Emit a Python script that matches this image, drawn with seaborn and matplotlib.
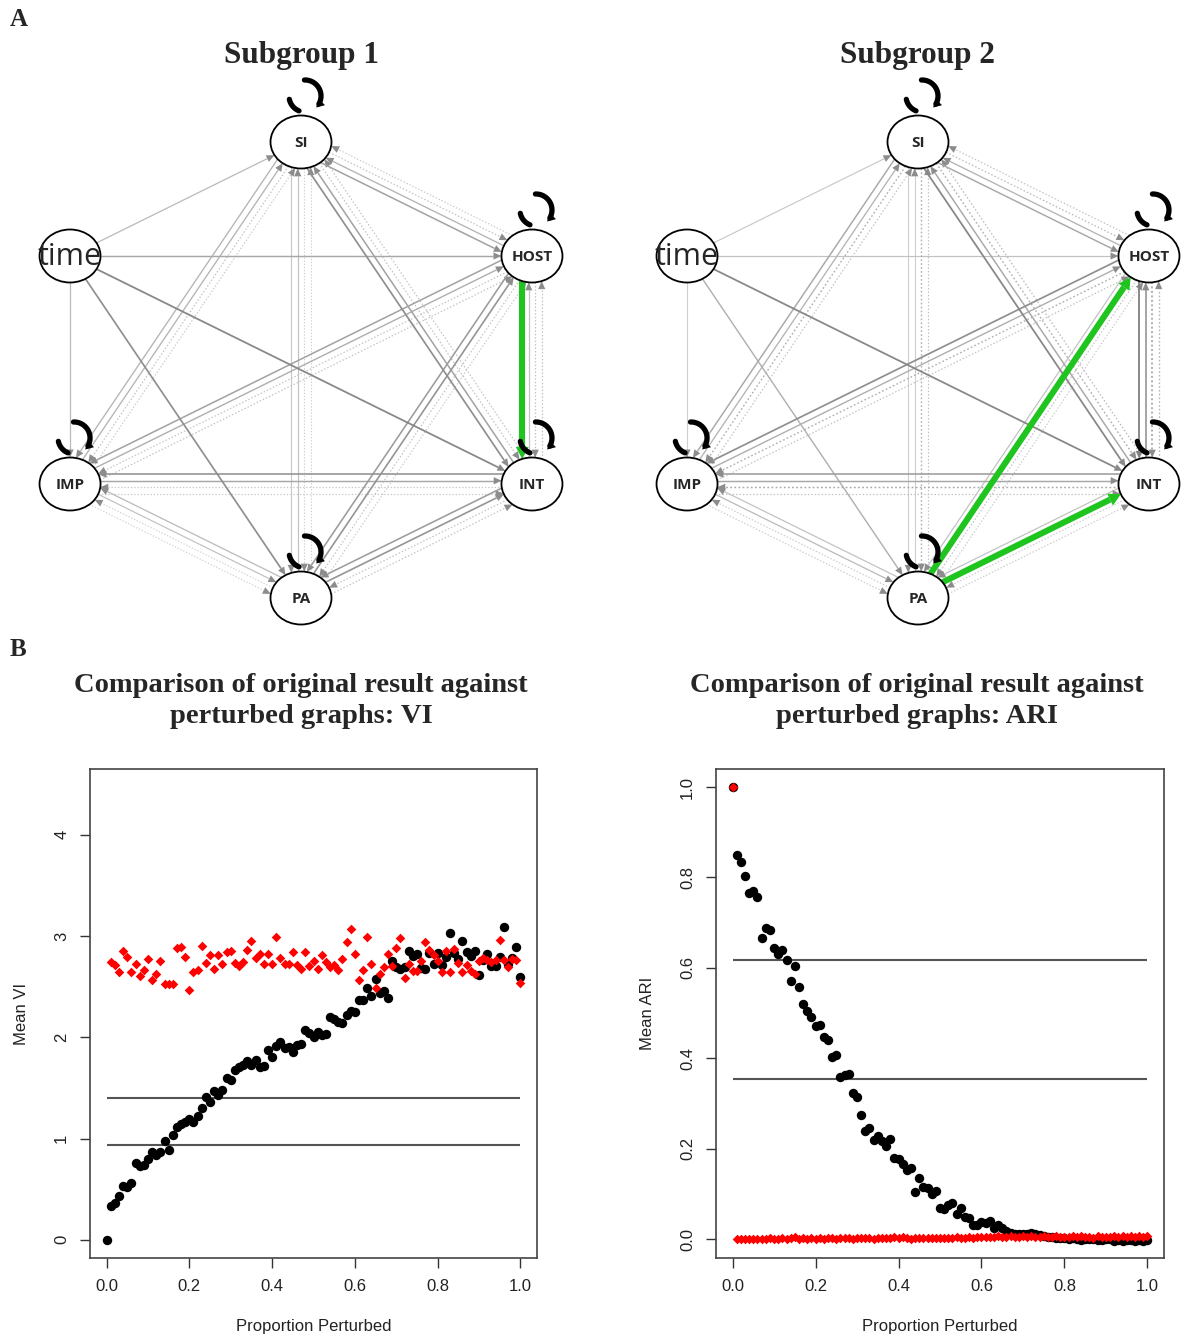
import numpy as np
import pandas as pd
import matplotlib
matplotlib.use("Agg")
import matplotlib.pyplot as plt
import seaborn as sns
from matplotlib.patches import Ellipse, Polygon

# ---------------------------------------------------------------- data
node_names = ["SI", "HOST", "INT", "PA", "IMP", "time"]
node_angles = [90, 30, -30, -90, -150, 150]
subgroup_titles = ["Subgroup 1", "Subgroup 2"]
loop_nodes = ["SI", "HOST", "INT", "PA", "IMP"]

# (from, to, lagged, strength 0..1)
edges_sub1 = [
    ("time", "SI", 0, 0.25), ("time", "HOST", 0, 0.40), ("time", "INT", 0, 0.65),
    ("time", "PA", 0, 0.60), ("time", "IMP", 0, 0.25),
    ("SI", "HOST", 0, 0.45), ("HOST", "SI", 0, 0.30), ("SI", "HOST", 1, 0.20), ("HOST", "SI", 1, 0.15),
    ("SI", "INT", 0, 0.60), ("INT", "SI", 0, 0.45), ("SI", "INT", 1, 0.20), ("INT", "SI", 1, 0.20),
    ("SI", "PA", 0, 0.15), ("PA", "SI", 0, 0.20), ("SI", "PA", 1, 0.10), ("PA", "SI", 1, 0.10),
    ("SI", "IMP", 0, 0.30), ("IMP", "SI", 0, 0.30), ("SI", "IMP", 1, 0.20), ("IMP", "SI", 1, 0.15),
    ("INT", "HOST", 0, 0.20), ("HOST", "INT", 1, 0.20), ("INT", "HOST", 1, 0.20),
    ("HOST", "IMP", 0, 0.45), ("IMP", "HOST", 0, 0.35), ("HOST", "IMP", 1, 0.20), ("IMP", "HOST", 1, 0.20),
    ("HOST", "PA", 0, 0.50), ("PA", "HOST", 0, 0.55), ("HOST", "PA", 1, 0.20), ("PA", "HOST", 1, 0.15),
    ("INT", "IMP", 0, 0.55), ("IMP", "INT", 0, 0.40), ("INT", "IMP", 1, 0.15), ("IMP", "INT", 1, 0.15),
    ("INT", "PA", 0, 0.50), ("PA", "INT", 0, 0.55), ("INT", "PA", 1, 0.20), ("PA", "INT", 1, 0.20),
    ("IMP", "PA", 0, 0.20), ("PA", "IMP", 0, 0.25), ("IMP", "PA", 1, 0.10), ("PA", "IMP", 1, 0.10),
]
green_sub1 = [("HOST", "INT")]

edges_sub2 = [
    ("time", "SI", 0, 0.15), ("time", "HOST", 0, 0.20), ("time", "INT", 0, 0.65),
    ("time", "PA", 0, 0.35), ("time", "IMP", 0, 0.10),
    ("SI", "HOST", 0, 0.40), ("HOST", "SI", 0, 0.30), ("SI", "HOST", 1, 0.25), ("HOST", "SI", 1, 0.20),
    ("SI", "INT", 0, 0.65), ("INT", "SI", 0, 0.40), ("SI", "INT", 1, 0.35), ("INT", "SI", 1, 0.25),
    ("SI", "PA", 0, 0.10), ("PA", "SI", 0, 0.10), ("SI", "PA", 1, 0.35), ("PA", "SI", 1, 0.20),
    ("SI", "IMP", 0, 0.40), ("IMP", "SI", 0, 0.30), ("SI", "IMP", 1, 0.35), ("IMP", "SI", 1, 0.20),
    ("HOST", "INT", 0, 0.70), ("INT", "HOST", 0, 0.55), ("HOST", "INT", 1, 0.50), ("INT", "HOST", 1, 0.30),
    ("HOST", "IMP", 0, 0.60), ("IMP", "HOST", 0, 0.35), ("HOST", "IMP", 1, 0.35), ("IMP", "HOST", 1, 0.20),
    ("HOST", "PA", 0, 0.20), ("HOST", "PA", 1, 0.20), ("PA", "HOST", 1, 0.15),
    ("INT", "IMP", 0, 0.50), ("IMP", "INT", 0, 0.40), ("INT", "IMP", 1, 0.40), ("IMP", "INT", 1, 0.20),
    ("INT", "PA", 0, 0.20), ("INT", "PA", 1, 0.15), ("PA", "INT", 1, 0.15),
    ("IMP", "PA", 0, 0.25), ("PA", "IMP", 0, 0.20), ("IMP", "PA", 1, 0.15), ("PA", "IMP", 1, 0.15),
]
green_sub2 = [("PA", "HOST"), ("PA", "INT")]

proportion = np.round(np.arange(101) * 0.01, 2)

vi_black = [
    0.00, 0.33, 0.36, 0.43, 0.53, 0.52, 0.56, 0.76, 0.73, 0.74,
    0.80, 0.87, 0.84, 0.87, 0.98, 0.89, 1.03, 1.11, 1.14, 1.16,
    1.19, 1.16, 1.22, 1.30, 1.41, 1.36, 1.47, 1.43, 1.48, 1.60,
    1.58, 1.68, 1.71, 1.73, 1.77, 1.73, 1.78, 1.71, 1.72, 1.87,
    1.81, 1.91, 1.95, 1.89, 1.90, 1.85, 1.92, 1.93, 2.07, 2.04,
    2.00, 2.05, 2.02, 2.03, 2.20, 2.18, 2.15, 2.14, 2.22, 2.26,
    2.25, 2.37, 2.37, 2.49, 2.41, 2.58, 2.44, 2.46, 2.39, 2.75,
    2.69, 2.67, 2.69, 2.85, 2.80, 2.82, 2.68, 2.67, 2.83, 2.72,
    2.83, 2.71, 2.79, 3.03, 2.83, 2.77, 2.95, 2.84, 2.80, 2.85,
    2.62, 2.76, 2.82, 2.70, 2.70, 2.79, 3.09, 2.72, 2.78, 2.89,
    2.60,
]
vi_red = [  # proportions 0.01 .. 1.00
    2.74, 2.71, 2.64, 2.85, 2.79, 2.64, 2.72, 2.61, 2.66, 2.77,
    2.57, 2.63, 2.75, 2.53, 2.53, 2.53, 2.88, 2.89, 2.79, 2.47,
    2.64, 2.66, 2.90, 2.73, 2.81, 2.67, 2.81, 2.72, 2.84, 2.85,
    2.73, 2.70, 2.74, 2.86, 2.95, 2.78, 2.82, 2.72, 2.82, 2.72,
    2.99, 2.78, 2.72, 2.72, 2.84, 2.71, 2.67, 2.84, 2.70, 2.75,
    2.67, 2.81, 2.74, 2.69, 2.71, 2.66, 2.77, 2.94, 3.07, 2.82,
    2.57, 2.66, 2.99, 2.72, 2.49, 2.63, 2.69, 2.82, 2.70, 2.88,
    2.98, 2.59, 2.72, 2.65, 2.65, 2.75, 2.94, 2.86, 2.81, 2.75,
    2.64, 2.85, 2.64, 2.87, 2.73, 2.64, 2.71, 2.65, 2.63, 2.75,
    2.78, 2.76, 2.74, 2.76, 2.96, 2.76, 2.69, 2.77, 2.76, 2.54,
]
vi_thresholds = [1.40, 0.94]

ari_black = [
    1.000, 0.849, 0.834, 0.803, 0.765, 0.771, 0.757, 0.665, 0.689, 0.684,
    0.644, 0.630, 0.639, 0.617, 0.571, 0.604, 0.557, 0.519, 0.504, 0.492,
    0.471, 0.473, 0.447, 0.440, 0.402, 0.408, 0.358, 0.363, 0.366, 0.324,
    0.314, 0.275, 0.240, 0.245, 0.218, 0.228, 0.216, 0.205, 0.222, 0.179,
    0.176, 0.165, 0.153, 0.158, 0.105, 0.135, 0.116, 0.113, 0.099, 0.107,
    0.068, 0.066, 0.076, 0.080, 0.056, 0.068, 0.048, 0.046, 0.031, 0.031,
    0.038, 0.035, 0.039, 0.025, 0.031, 0.025, 0.017, 0.013, 0.012, 0.012,
    0.011, 0.011, 0.013, 0.010, 0.008, 0.006, 0.004, 0.005, 0.003, 0.002,
    0.003, 0.001, 0.002, 0.000, -0.002, 0.001, -0.001, 0.000, -0.003, -0.002,
    0.000, -0.001, -0.004, -0.003, -0.004, -0.002, -0.003, -0.005, -0.003, -0.004,
    -0.003,
]
ari_red = [
    1.000,
    0.000, 0.001, 0.000, 0.001, 0.000, 0.001, 0.000, 0.001, 0.002, 0.001,
    0.001, 0.002, 0.001, 0.003, 0.004, 0.001, 0.002, 0.001, 0.002, 0.001,
    0.002, 0.001, 0.002, 0.003, 0.001, 0.002, 0.003, 0.002, 0.001, 0.002,
    0.002, 0.003, 0.002, 0.001, 0.003, 0.002, 0.002, 0.003, 0.004, 0.003,
    0.004, 0.002, 0.001, 0.002, 0.003, 0.002, 0.002, 0.003, 0.002, 0.003,
    0.003, 0.002, 0.003, 0.004, 0.003, 0.002, 0.004, 0.003, 0.004, 0.005,
    0.004, 0.005, 0.004, 0.006, 0.005, 0.004, 0.006, 0.005, 0.004, 0.006,
    0.005, 0.006, 0.004, 0.005, 0.006, 0.004, 0.005, 0.006, 0.004, 0.005,
    0.004, 0.006, 0.005, 0.007, 0.004, 0.005, 0.003, 0.006, 0.005, 0.004,
    0.005, 0.006, 0.004, 0.006, 0.005, 0.007, 0.004, 0.006, 0.005, 0.006,
]
ari_thresholds = [0.618, 0.353]

x_ticks = [0.0, 0.2, 0.4, 0.6, 0.8, 1.0]
vi_yticks = [0, 1, 2, 3, 4]
ari_yticks = [0.0, 0.2, 0.4, 0.6, 0.8, 1.0]
plot_titles = ["Comparison of original result against\nperturbed graphs: VI",
               "Comparison of original result against\nperturbed graphs: ARI"]

# ---------------------------------------------------------------- setup
sns.set_theme(style="ticks")
plt.rcParams["font.family"] = ["Liberation Sans", "DejaVu Sans"]
SERIF = ["Liberation Serif", "DejaVu Serif"]

W, H = 1184, 1341
fig = plt.figure(figsize=(W / 100, H / 100), dpi=100)


def fx(px):
    return px / W


def fy(py):
    return 1 - py / H


# ---------------------------------------------------------------- networks
NET_H = 640
axn = fig.add_axes([0, fy(NET_H), 1, NET_H / H])
axn.set_xlim(0, W)
axn.set_ylim(NET_H, 0)
axn.axis("off")

RX, RY = 30.5, 26.5          # node half-sizes (px)
LAY_RX, LAY_RY = 266.7, 228  # layout radii
CY = 370
CENTERS = [301, 918]
SLOT = 6.5
GREEN = "#1fc41f"
idx = {n: i for i, n in enumerate(node_names)}


def layout(cx):
    return {n: np.array([cx + LAY_RX * np.cos(np.radians(a)), CY - LAY_RY * np.sin(np.radians(a))])
            for n, a in zip(node_names, node_angles)}


def hit(S, E, C):
    d = E - S
    f = S - C
    a = (d[0] / RX) ** 2 + (d[1] / RY) ** 2
    b = 2 * (f[0] * d[0] / RX ** 2 + f[1] * d[1] / RY ** 2)
    c = (f[0] / RX) ** 2 + (f[1] / RY) ** 2 - 1
    disc = max(b * b - 4 * a * c, 0)
    sq = np.sqrt(disc)
    return (-b - sq) / (2 * a), (-b + sq) / (2 * a)


def slot_offset(src, dst, lag):
    if "time" in (src, dst):
        return 0.0
    a, b = sorted([src, dst], key=lambda n: idx[n])
    fwd = src == a
    table = {(True, 0): -1.5, (False, 0): -0.5, (True, 1): 0.5, (False, 1): 1.5}
    return table[(fwd, lag)] * SLOT


def draw_edge(pos, src, dst, off, color, lw, ls, hcol, hlen, hw, z):
    a, b = sorted([src, dst], key=lambda n: idx[n])
    d = pos[b] - pos[a]
    u0 = d / np.linalg.norm(d)
    n = np.array([u0[1], -u0[0]])
    A, B = pos[src], pos[dst]
    S, E = A + n * off, B + n * off
    ts = hit(S, E, A)[1]
    te = hit(S, E, B)[0]
    P0 = S + ts * (E - S)
    P1 = S + te * (E - S)
    u = (P1 - P0) / np.linalg.norm(P1 - P0)
    nn = np.array([-u[1], u[0]])
    base = P1 - u * hlen
    axn.plot([P0[0], base[0]], [P0[1], base[1]], color=color, lw=lw, ls=ls,
             zorder=z, solid_capstyle="butt")
    axn.add_patch(Polygon([P1, base + nn * hw, base - nn * hw], closed=True,
                          facecolor=hcol, edgecolor="none", zorder=z + 0.1))


def draw_loop(p):
    lc = np.array([p[0] + 4, p[1] - 46])
    r = 16
    for t0, t1 in [(248, 192), (92, -30)]:
        th = np.radians(np.linspace(t0, t1, 40))
        axn.plot(lc[0] + r * np.cos(th), lc[1] - r * np.sin(th), color="black",
                 lw=3.8, solid_capstyle="round", zorder=5)
    th = np.radians(-46)
    tip = lc + r * np.array([np.cos(th), -np.sin(th)])
    u = np.array([np.sin(th), np.cos(th)])
    u = u / np.linalg.norm(u)
    nn = np.array([-u[1], u[0]])
    base = tip - u * 8
    axn.add_patch(Polygon([tip, base + nn * 4.5, base - nn * 4.5], closed=True,
                          facecolor="black", edgecolor="none", zorder=5))


for cx, title, edges, greens in zip(CENTERS, subgroup_titles,
                                    [edges_sub1, edges_sub2], [green_sub1, green_sub2]):
    pos = layout(cx)
    for src, dst, lag, s in edges:
        g = 0.86 - 0.5 * s
        col = (g, g, g)
        hg = min(g, 0.55)
        ls = (0, (1.2, 1.6)) if lag else "-"
        draw_edge(pos, src, dst, slot_offset(src, dst, lag), col, 0.7 + 0.9 * s, ls,
                  (hg, hg, hg), 8, 3.6, 1 + s)
    for src, dst in greens:
        draw_edge(pos, src, dst, slot_offset(src, dst, 0), GREEN, 4.4, "-",
                  GREEN, 12, 6.5, 2.5)
    for n in node_names:
        p = pos[n]
        axn.add_patch(Ellipse(p, 2 * RX, 2 * RY, facecolor="white", edgecolor="black",
                              lw=1.3, zorder=3))
        if n == "time":
            axn.text(p[0], p[1] + 1, n, fontsize=22, family=["Open Sans", "DejaVu Sans"],
                     ha="center", va="center", zorder=6)
        else:
            axn.text(p[0], p[1] + 1, n, fontsize=11, fontweight="bold",
                     family=["Open Sans", "DejaVu Sans"], ha="center", va="center", zorder=6)
    for n in loop_nodes:
        draw_loop(pos[n])
    axn.text(cx, 56, title, fontsize=22.5, fontweight="bold", family=SERIF,
             ha="center", va="center")

fig.text(fx(10), fy(20), "A", fontsize=18, fontweight="bold", family=SERIF, va="center")
fig.text(fx(10), fy(650), "B", fontsize=18, fontweight="bold", family=SERIF, va="center")

# ---------------------------------------------------------------- scatter plots
ax1 = fig.add_axes([fx(90), fy(1258), fx(537) - fx(90), (1258 - 769) / H])
ax2 = fig.add_axes([fx(716), fy(1258), fx(1164) - fx(716), (1258 - 769) / H])

df_vi_b = pd.DataFrame({"x": proportion, "y": vi_black})
df_vi_r = pd.DataFrame({"x": proportion[1:], "y": vi_red})
df_ari_b = pd.DataFrame({"x": proportion, "y": ari_black})
df_ari_r = pd.DataFrame({"x": proportion, "y": ari_red})

for ax, dfb, dfr, thr, yt, ylim, ylab, ttl, tcx in [
    (ax1, df_vi_b, df_vi_r, vi_thresholds, vi_yticks, (-0.18, 4.65), "Mean VI", plot_titles[0], 301),
    (ax2, df_ari_b, df_ari_r, ari_thresholds, ari_yticks, (-0.042, 1.04), "Mean ARI", plot_titles[1], 917),
]:
    ax.hlines(thr, 0, 1, color="#555555", lw=1.5, zorder=1)
    sns.scatterplot(data=dfb, x="x", y="y", ax=ax, color="black", s=46, linewidth=0,
                    marker="o", legend=False, zorder=2)
    sns.scatterplot(data=dfr, x="x", y="y", ax=ax, color="#ff0000", s=24, linewidth=0,
                    marker="D", legend=False, zorder=3)
    ax.set_xlim(-0.04, 1.04)
    ax.set_ylim(*ylim)
    ax.set_xticks(x_ticks)
    ax.set_xticklabels([f"{v:.1f}" for v in x_ticks])
    ax.set_yticks(yt)
    if ax is ax1:
        ax.set_yticklabels([str(v) for v in yt], rotation=90, va="center")
    else:
        ax.set_yticklabels([f"{v:.1f}" for v in yt], rotation=90, va="center")
    ax.tick_params(direction="out", length=7, width=1, color="#333333",
                   labelsize=12, labelcolor="#222222")
    ax.tick_params(axis="x", pad=8)
    ax.tick_params(axis="y", pad=8)
    for sp in ax.spines.values():
        sp.set_visible(True)
        sp.set_color("#444444")
        sp.set_linewidth(1.2)
    ax.set_xlabel("Proportion Perturbed", fontsize=12, color="#222222", labelpad=18)
    ax.set_ylabel(ylab, fontsize=12, color="#222222", labelpad=18)
    ax.grid(False)
    fig.text(fx(tcx), fy(701), ttl, ha="center", va="center", fontsize=20.5,
             fontweight="bold", family=SERIF, linespacing=1.35)

fig.savefig("out.png", dpi=100, facecolor="white")
